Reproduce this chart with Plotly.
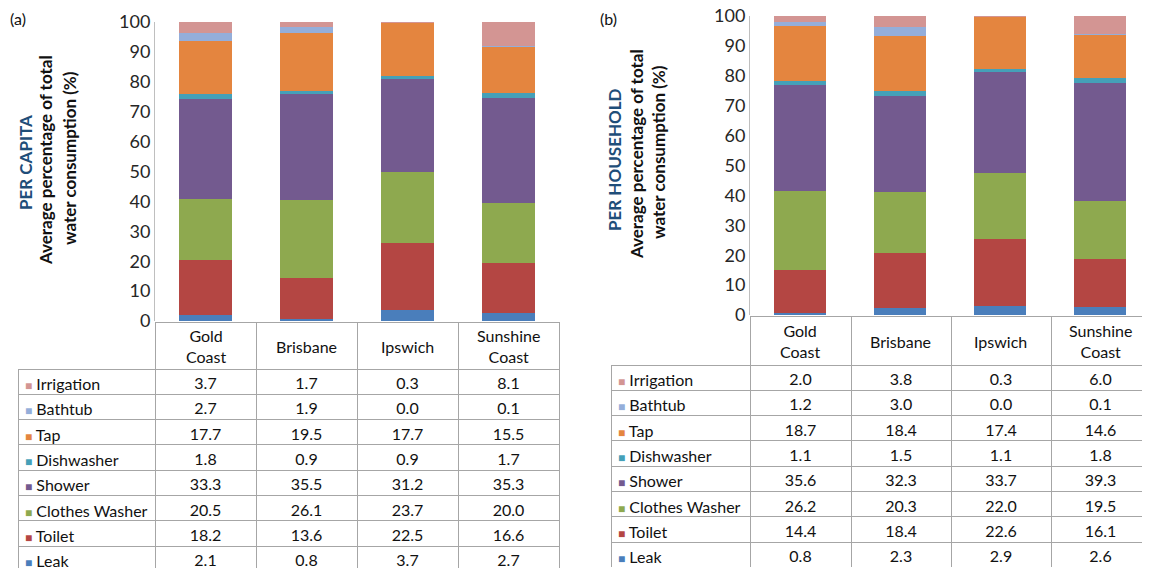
import plotly.graph_objects as go

# page body has an 8px default margin, so the figure starts at (8, 8)
OFF = 8
W, H = 1150 - OFF, 568 - OFF

cities = ["Gold Coast", "Brisbane", "Ipswich", "Sunshine Coast"]
city_headers = ["Gold<br>Coast", "Brisbane", "Ipswich", "Sunshine<br>Coast"]

# stacking order bottom -> top
uses = ["Leak", "Toilet", "Clothes Washer", "Shower", "Dishwasher", "Tap", "Bathtub", "Irrigation"]
colors = ["#4A7EBB", "#B44643", "#8EA94F", "#735A8F", "#45A0B8", "#E4853F", "#94AEDA", "#D39593"]

# (a) per capita
pc_leak = [2.1, 0.8, 3.7, 2.7]
pc_toilet = [18.2, 13.6, 22.5, 16.6]
pc_clothes = [20.5, 26.1, 23.7, 20.0]
pc_shower = [33.3, 35.5, 31.2, 35.3]
pc_dish = [1.8, 0.9, 0.9, 1.7]
pc_tap = [17.7, 19.5, 17.7, 15.5]
pc_bath = [2.7, 1.9, 0.0, 0.1]
pc_irrig = [3.7, 1.7, 0.3, 8.1]

# (b) per household
ph_leak = [0.8, 2.3, 2.9, 2.6]
ph_toilet = [14.4, 18.4, 22.6, 16.1]
ph_clothes = [26.2, 20.3, 22.0, 19.5]
ph_shower = [35.6, 32.3, 33.7, 39.3]
ph_dish = [1.1, 1.5, 1.1, 1.8]
ph_tap = [18.7, 18.4, 17.4, 14.6]
ph_bath = [1.2, 3.0, 0.0, 0.1]
ph_irrig = [2.0, 3.8, 0.3, 6.0]

yticks = list(range(0, 101, 10))

per_capita = [pc_leak, pc_toilet, pc_clothes, pc_shower, pc_dish, pc_tap, pc_bath, pc_irrig]
per_household = [ph_leak, ph_toilet, ph_clothes, ph_shower, ph_dish, ph_tap, ph_bath, ph_irrig]

FONT = "Lato"
TXT = "#111111"
GRID = "#A6A6A6"

def px(x):
    return (x - OFF) / W

def py(y):
    return 1 - (y - OFF) / H

fig = go.Figure()
ann = []

def add_panel(series, xa, ya, tdom_x, colw, ttop, hdr_h, row_h, label_x):
    for name, col, vals in zip(uses, colors, series):
        fig.add_trace(go.Bar(x=cities, y=vals, name=name, marker_color=col,
                             marker_line_width=0, xaxis=xa, yaxis=ya,
                             showlegend=False))
    order = list(range(len(uses)))[::-1]  # table rows: Irrigation (top) -> Leak (bottom)
    cols = [["" for _ in order]] + [[f"{series[i][c]:.1f}" for i in order] for c in range(len(cities))]
    fig.add_trace(go.Table(
        domain=dict(x=tdom_x, y=[0, py(ttop)]),
        columnwidth=colw,
        header=dict(values=["", "", "", "", ""], height=hdr_h,
                    line=dict(color=["rgba(0,0,0,0)", GRID, GRID, GRID, GRID], width=1),
                    fill=dict(color=["rgba(0,0,0,0)", "white", "white", "white", "white"])),
        cells=dict(values=cols, height=row_h,
                   align=["left", "center", "center", "center", "center"],
                   line=dict(color=GRID, width=1),
                   fill=dict(color="white"),
                   font=dict(family=FONT, size=16, color=TXT)),
    ))
    # row labels with coloured legend squares
    for r, i in enumerate(order):
        yc = ttop + hdr_h + (r + 0.5) * row_h + 2
        ann.append(dict(x=px(label_x), y=py(yc), xref="paper", yref="paper",
                        text=f"<span style='color:{colors[i]};font-size:12px'>■</span> {uses[i]}",
                        showarrow=False, xanchor="left", yanchor="middle",
                        font=dict(family=FONT, size=16, color=TXT)))

add_panel(per_capita, "x", "y", [px(18), px(559)], [137, 101, 101, 101, 101], 322, 47, 25.3, 23)
add_panel(per_household, "x2", "y2", [px(611), 1.0], [139, 101, 100, 100, 99], 316, 49, 25.3, 616)

axis_common_y = dict(range=[0, 100], tickvals=yticks, showgrid=False, zeroline=False,
                     showline=True, linecolor="#BFBFBF", linewidth=1, ticks="",
                     automargin=False, ticklabeloverflow="allow",
                     tickfont=dict(family=FONT, size=18, color="#262626"))
axis_common_x = dict(range=[-0.5, 3.5], showticklabels=False, showline=False,
                     showgrid=False, zeroline=False, ticks="", type="category",
                     automargin=False)

fig.update_layout(
    template="none",
    width=W, height=H, autosize=False,
    margin=dict(l=0, r=0, t=0, b=0, pad=0, autoexpand=False),
    paper_bgcolor="white", plot_bgcolor="white",
    barmode="stack", bargap=0.475,
    font=dict(family=FONT, size=16, color=TXT),
    xaxis=dict(domain=[px(155), px(559)], anchor="y", **axis_common_x),
    yaxis=dict(domain=[py(321), py(22)], anchor="x", **axis_common_y),
    xaxis2=dict(domain=[px(750), 1.0], anchor="y2", **axis_common_x),
    yaxis2=dict(domain=[py(315), py(16)], anchor="x2", **axis_common_y),
)

# header labels (table header row), centred vertically in the header cells
for c, h in zip(cities, city_headers):
    ann.append(dict(x=c, xref="x", y=py(346), yref="paper", text=h, showarrow=False,
                    xanchor="center", yanchor="middle", font=dict(family=FONT, size=16, color=TXT)))
    ann.append(dict(x=c, xref="x2", y=py(341), yref="paper", text=h, showarrow=False,
                    xanchor="center", yanchor="middle", font=dict(family=FONT, size=16, color=TXT)))

def vtitle(text, x, y, color=TXT):
    ann.append(dict(x=px(x), y=py(y), xref="paper", yref="paper", text=f"<b>{text}</b>",
                    textangle=-90, showarrow=False, xanchor="center", yanchor="middle",
                    font=dict(family=FONT, size=17, color=color)))

vtitle("PER CAPITA", 25, 163, "#1F4E79")
vtitle("Average percentage of total", 46, 160)
vtitle("water consumption (%)", 70, 158)
vtitle("PER HOUSEHOLD", 615, 160, "#1F4E79")
vtitle("Average percentage of total", 637, 154)
vtitle("water consumption (%)", 658, 152)

ann.append(dict(x=px(8), y=py(18), xref="paper", yref="paper", text="(a)", showarrow=False,
                xanchor="left", yanchor="middle", font=dict(family=FONT, size=16, color=TXT)))
ann.append(dict(x=px(598), y=py(18), xref="paper", yref="paper", text="(b)", showarrow=False,
                xanchor="left", yanchor="middle", font=dict(family=FONT, size=16, color=TXT)))

fig.update_layout(annotations=ann)
fig.write_html("out.html")
